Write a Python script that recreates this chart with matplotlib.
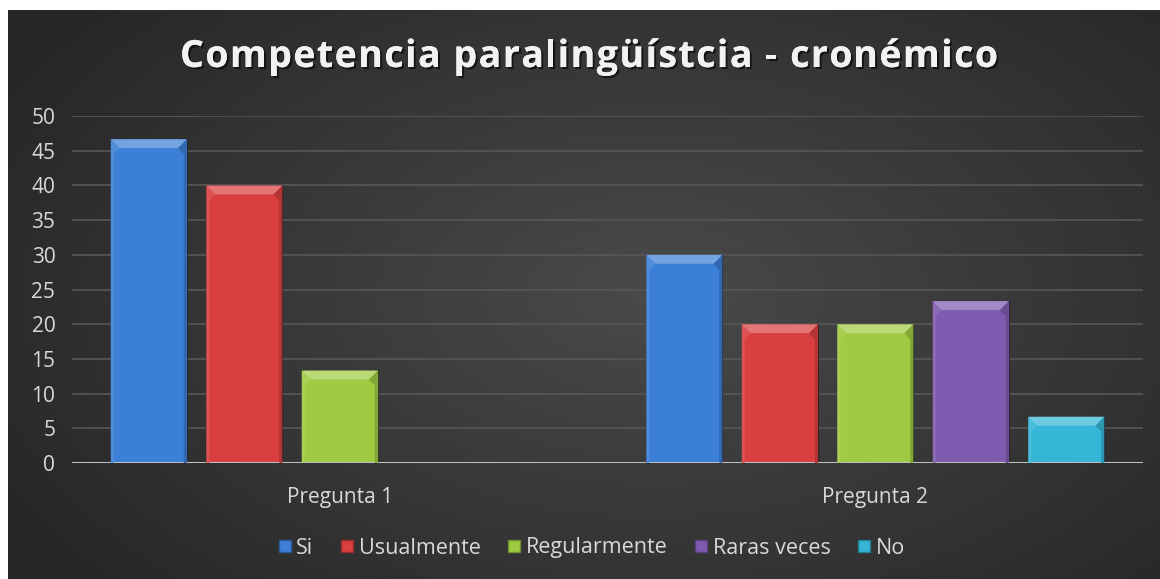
import numpy as np
import matplotlib
matplotlib.use("Agg")
import matplotlib.pyplot as plt
from matplotlib.patches import Polygon
from matplotlib.transforms import IdentityTransform
from matplotlib.lines import Line2D
import matplotlib.patheffects as pe
from matplotlib.colors import to_rgb

title = "Competencia paralingüístcia - cronémico"
categories = ["Pregunta 1", "Pregunta 2"]
series_names = ["Si", "Usualmente", "Regularmente", "Raras veces", "No"]
si = [46.67, 30.0]
usualmente = [40.0, 20.0]
regularmente = [13.33, 20.0]
raras_veces = [0.0, 23.33]
no = [0.0, 6.67]
series_values = [si, usualmente, regularmente, raras_veces, no]
colors = ["#3c7fd6", "#d93f3f", "#9fcb42", "#7f5baf", "#36b6d6"]
yticks = [0, 5, 10, 15, 20, 25, 30, 35, 40, 45, 50]

W, H = 1160, 579
fig = plt.figure(figsize=(W / 100, H / 100), dpi=100, facecolor="white")

# dark background with radial gradient
bg = fig.add_axes([8 / W, 0, 1 - 8 / W, 1 - 10 / H])
bg.set_axis_off()
ny, nx = 300, 600
yy, xx = np.mgrid[0:1:ny * 1j, 0:1:nx * 1j]
r = np.sqrt(((xx - 0.56) / 0.75) ** 2 + ((yy - 0.5) / 0.9) ** 2)
v = np.clip(0.29 - 0.16 * r, 0.15, 0.29)
img = np.dstack([v, v, v])
bg.imshow(img, extent=[0, 1, 0, 1], aspect="auto", interpolation="bilinear")
bg.set_xlim(0, 1)
bg.set_ylim(0, 1)

ax = fig.add_axes([72 / W, 1 - 463 / H, (1143 - 72) / W, (463 - 116) / H])
ax.set_facecolor("none")
for s in ax.spines.values():
    s.set_visible(False)

n = len(series_names)
x = np.arange(len(categories))
step = 0.1783
width = 0.142
bars = []
for i, (name, vals, c) in enumerate(zip(series_names, series_values, colors)):
    b = ax.bar(x + (i - (n - 1) / 2) * step, vals, width, color=c, label=name,
               edgecolor=(0.05, 0.05, 0.05, 0.6), linewidth=0.8, zorder=3)
    bars.append((b, c))

ax.set_xlim(-0.5, 1.5)
ax.set_ylim(0, 50)
ax.set_yticks(yticks)
ax.set_xticks(x)
ax.set_xticklabels(categories)
ax.yaxis.grid(True, color="#575757", linewidth=1.2, zorder=0)
ax.set_axisbelow(True)
ax.axhline(0, color="#bfbfbf", linewidth=2.2, zorder=4)
ax.tick_params(axis="both", length=0, colors="#d9d9d9", labelsize=15)
ax.tick_params(axis="y", pad=12)
ax.tick_params(axis="x", pad=17)
for lab in ax.get_xticklabels() + ax.get_yticklabels():
    lab.set_fontfamily("Open Sans")
    lab.set_color("#d9d9d9")

fig.canvas.draw()
renderer = fig.canvas.get_renderer()

def mix(c, t, amt):
    c = np.array(to_rgb(c)); t = np.array(to_rgb(t))
    return tuple(c + (t - c) * amt)

bev = 9
side = 3
for b, c in bars:
    for rect in b.patches:
        h = rect.get_height()
        if h <= 0:
            continue
        x0, y0 = ax.transData.transform((rect.get_x(), 0))
        x1, y1 = ax.transData.transform((rect.get_x() + rect.get_width(), h))
        top_poly = Polygon([(x0, y1), (x1, y1), (x1 - bev, y1 - bev), (x0 + bev, y1 - bev)],
                           closed=True, transform=IdentityTransform(),
                           facecolor=mix(c, "white", 0.28), edgecolor="none", zorder=5)
        left_poly = Polygon([(x0, y0), (x0, y1), (x0 + bev, y1 - bev), (x0 + side, y1 - bev - 6), (x0 + side, y0)],
                            closed=True, transform=IdentityTransform(),
                            facecolor=mix(c, "white", 0.10), edgecolor="none", zorder=5)
        right_poly = Polygon([(x1, y0), (x1, y1), (x1 - bev, y1 - bev), (x1 - side, y1 - bev - 6), (x1 - side, y0)],
                             closed=True, transform=IdentityTransform(),
                             facecolor=mix(c, "black", 0.18), edgecolor="none", zorder=5)
        for p in (left_poly, right_poly, top_poly):
            fig.add_artist(p)

# title with letter spacing
tprops = dict(fontsize=27, fontweight="bold", family="Open Sans")
def text_w(s):
    if not s:
        return 0.0
    t = fig.text(0, 0, s, **tprops)
    w = t.get_window_extent(renderer).width
    t.remove()
    return w
target_w = 818.0
full_w = text_w(title)
sp = (target_w - full_w) / (len(title) - 1)
x_start = 589 - target_w / 2
y_t = H - 57
shadow = [pe.withSimplePatchShadow(offset=(1.5, -1.5), shadow_rgbFace="black", alpha=0.6), pe.Normal()]
for k, ch in enumerate(title):
    if ch == " ":
        continue
    xk = x_start + text_w(title[:k]) + k * sp
    fig.text(xk / W, y_t / H, ch, ha="left", va="center", color="#f2f2f2",
             path_effects=shadow, **tprops)

lh = [Line2D([], [], marker="s", linestyle="none", markersize=8, markerfacecolor=c,
             markeredgecolor=mix(c, "black", 0.3)) for c in colors]
leg = fig.legend(lh, series_names, loc="center", bbox_to_anchor=(592 / W, 1 - 548 / H),
                 ncol=5, frameon=False, handlelength=0.55, handletextpad=0.25,
                 columnspacing=1.3, prop={"family": "Open Sans", "size": 15.5})
for t in leg.get_texts():
    t.set_color("#d9d9d9")

fig.savefig("out.png", dpi=100, facecolor="white")
